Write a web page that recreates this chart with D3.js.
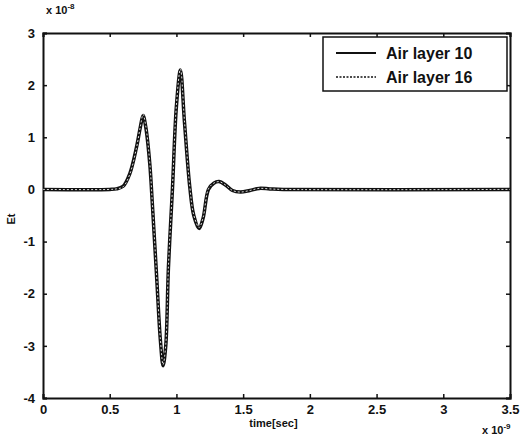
<!DOCTYPE html>
<html>
<head>
<meta charset="utf-8">
<script src="https://cdn.jsdelivr.net/npm/d3@7"></script>
<style>
  html, body { margin: 0; padding: 0; background: #fff; }
  svg { display: block; }
  text { font-family: "Liberation Sans", Arial, sans-serif; font-weight: bold; fill: #111; }
</style>
</head>
<body>
<script>
// Time axis (units of 1e-9 s) and field values (units of 1e-8)
const timeNs = [0, 0.5, 0.55, 0.6, 0.65, 0.7, 0.73, 0.75, 0.77, 0.8, 0.82, 0.85, 0.88, 0.9, 0.92, 0.94, 0.97,
                1.0, 1.03, 1.06, 1.1, 1.13, 1.17, 1.2, 1.24, 1.28, 1.32, 1.37, 1.42, 1.48, 1.55, 1.62, 1.7, 1.8, 3.5];
const airLayer10 = [0, 0, 0.01, 0.06, 0.3, 0.8, 1.2, 1.42, 1.2, 0.5, -0.3, -1.6, -2.9, -3.38, -3.0, -1.5, 0,
                    1.6, 2.29, 1.3, 0.05, -0.5, -0.75, -0.55, 0, 0.12, 0.15, 0.08, -0.02, -0.05, -0.02, 0.02, 0.01, 0, 0];
const airLayer16 = [0, 0, 0.01, 0.05, 0.29, 0.79, 1.21, 1.44, 1.22, 0.52, -0.28, -1.58, -2.88, -3.36, -2.98, -1.48, 0.02,
                    1.62, 2.31, 1.32, 0.06, -0.49, -0.73, -0.54, 0.01, 0.12, 0.15, 0.08, -0.02, -0.05, -0.02, 0.02, 0.01, 0, 0];
const xTicks = [0, 0.5, 1, 1.5, 2, 2.5, 3, 3.5];
const xTickLabels = ["0", "0.5", "1", "1.5", "2", "2.5", "3", "3.5"];
const yTicks = [-4, -3, -2, -1, 0, 1, 2, 3];
const yTickLabels = ["-4", "-3", "-2", "-1", "0", "1", "2", "3"];
const seriesNames = ["Air layer 10", "Air layer 16"];

const W = 525, H = 443;
const m = { left: 43, top: 33, right: 15, bottom: 45 };
const pw = W - m.left - m.right, ph = H - m.top - m.bottom;

const svg = d3.select("body").append("svg").attr("width", W).attr("height", H);
const g = svg.append("g").attr("transform", `translate(${m.left},${m.top})`);

const x = d3.scaleLinear().domain([0, 3.5]).range([0, pw]);
const y = d3.scaleLinear().domain([-4, 3]).range([ph, 0]);

// Axes with inward ticks on every side
g.append("g").attr("transform", `translate(0,${ph})`)
  .call(d3.axisBottom(x).tickValues(xTicks).tickSize(-4).tickPadding(7)
    .tickFormat((d, i) => xTickLabels[i]))
  .call(a => a.selectAll("text").attr("font-size", 13));
g.append("g")
  .call(d3.axisLeft(y).tickValues(yTicks).tickSize(-4).tickPadding(8)
    .tickFormat((d, i) => yTickLabels[i]))
  .call(a => a.selectAll("text").attr("font-size", 13));
g.append("g").call(d3.axisTop(x).tickValues(xTicks).tickSize(-4).tickFormat(""));
g.append("g").attr("transform", `translate(${pw},0)`)
  .call(d3.axisRight(y).tickValues(yTicks).tickSize(-4).tickFormat(""));
g.selectAll(".domain").attr("stroke", "#111").attr("stroke-width", 2);
g.selectAll(".tick line").attr("stroke", "#111").attr("stroke-width", 1.5);

const line = d3.line().x(d => x(d[0])).y(d => y(d[1])).curve(d3.curveCatmullRom.alpha(0.5));
const s10 = timeNs.map((t, i) => [t, airLayer10[i]]);
const s16 = timeNs.map((t, i) => [t, airLayer16[i]]);

g.append("path").datum(s10).attr("d", line)
  .attr("fill", "none").attr("stroke", "#111").attr("stroke-width", 3.5).attr("stroke-linejoin", "round");
g.append("path").datum(s16).attr("d", line)
  .attr("fill", "none").attr("stroke", "#f4f4f4").attr("stroke-width", 0.9).attr("stroke-dasharray", "2,2");

// Exponent labels
svg.append("text").attr("x", 46).attr("y", 14).attr("font-size", 11).text("x 10")
  .append("tspan").attr("dy", -5).attr("font-size", 8).text("-8");
svg.append("text").attr("x", 482).attr("y", 434).attr("font-size", 11).text("x 10")
  .append("tspan").attr("dy", -5).attr("font-size", 8).text("-9");

// Axis titles
svg.append("text").attr("x", m.left + pw / 2 - 3).attr("y", 427).attr("text-anchor", "middle")
  .attr("font-size", 11).text("time[sec]");
svg.append("text").attr("transform", "translate(15,219) rotate(-90)").attr("text-anchor", "middle")
  .attr("font-size", 11).text("Et");

// Legend
const lg = svg.append("g").attr("transform", "translate(323,37)");
lg.append("rect").attr("width", 184).attr("height", 54).attr("fill", "#fff")
  .attr("stroke", "#111").attr("stroke-width", 1.5);
seriesNames.forEach((name, i) => {
  const yy = 16 + i * 24;
  lg.append("line").attr("x1", 13).attr("x2", 53).attr("y1", yy).attr("y2", yy)
    .attr("stroke", "#111").attr("stroke-width", i === 0 ? 2 : 1.5)
    .attr("stroke-dasharray", i === 0 ? null : "2,1.5");
  lg.append("text").attr("x", 63).attr("y", yy + 6).attr("font-size", 16).text(name);
});
</script>
</body>
</html>
